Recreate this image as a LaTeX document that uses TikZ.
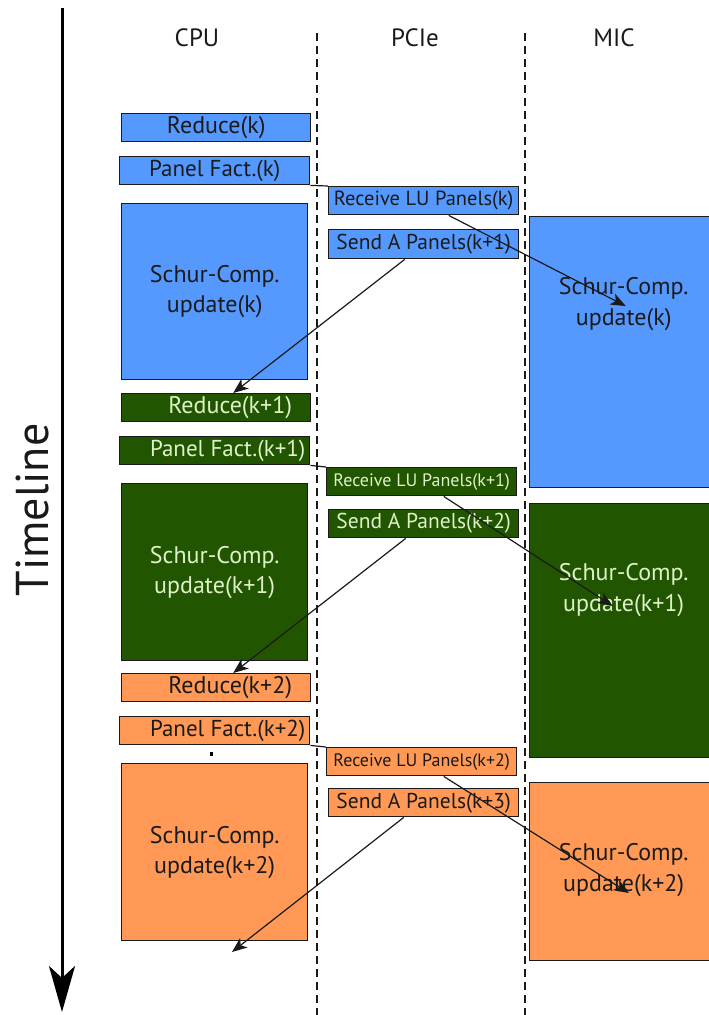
\documentclass[tikz,border=0pt]{standalone}
\usepackage{fontspec}
\setmainfont{PT Sans}
\usetikzlibrary{arrows.meta,positioning,calc}
\definecolor{stagea}{HTML}{5599FF}
\definecolor{stageb}{HTML}{225500}
\definecolor{stagec}{HTML}{FF9955}
\definecolor{ink}{HTML}{1A1A1A}
\definecolor{pale}{HTML}{DDF2C8}
\tikzset{
  >={Stealth[length=15pt,width=12pt,inset=4pt]},
  every node/.style={text=ink},
  box/.style={draw=ink,line width=1.4pt,anchor=north west,inner sep=0pt,align=center,font=\fontsize{24}{30}\selectfont},
  bluebox/.style={box,fill=stagea},
  greenbox/.style={box,fill=stageb,text=pale},
  orangebox/.style={box,fill=stagec},
  pftext/.style={font=\fontsize{23}{27}\selectfont},
  rcvtext/.style={font=\fontsize{20.5}{24}\selectfont},
  sndtext/.style={font=\fontsize{21.5}{25}\selectfont},
  smalltext/.style={font=\fontsize{18}{22}\selectfont},
  mictext/.style={align=center,inner sep=0pt,font=\fontsize{24}{31}\selectfont},
  lane/.style={draw=ink,line width=1.3pt,dash pattern=on 8pt off 5pt},
  head/.style={font=\fontsize{25}{30}\selectfont},
  msg/.style={->,line width=1.2pt,draw=ink},
  hand/.style={line width=1.2pt,draw=ink},
}

\begin{document}
\begin{tikzpicture}[x=1pt,y=-1pt]
\useasboundingbox (0,0) rectangle (709,1015);
\clip (0,0) rectangle (709,1015);

% timeline
\coordinate (tltop) at (62,8);
\coordinate (tlbot) at (62,1012);
\draw[line width=3pt,draw=black,-{Stealth[length=46pt,width=26pt,inset=12pt]}] (tltop) -- (tlbot);
\node[rotate=90,font=\fontsize{46}{50}\selectfont] (tlname) at (32,510) {Timeline};

% lanes
\draw[lane] (317,33) -- (317,1015);
\draw[lane] (525,33) -- (525,1015);
\node[head] (cpu) at (197,38) {CPU};
\node[head] (pcie) at (415,38) {PCIe};
\node[head] (mic) at (614,38) {MIC};

% step k
\node[bluebox,minimum width=189pt,minimum height=28pt] (reda) at (121,113) {Reduce(k)};
\node[bluebox,pftext,minimum width=190pt,minimum height=28pt] (pfa) at (119,156) {Panel Fact.(k)};
\node[bluebox,minimum width=186pt,minimum height=176pt] (sca) at (121,203) {Schur-Comp.\\update(k)};
\node[bluebox,rcvtext,minimum width=190pt,minimum height=28pt] (rcva) at (328,186) {Receive LU Panels(k)};
\node[bluebox,sndtext,minimum width=190pt,minimum height=29pt] (snda) at (328,229) {Send A Panels(k+1)};
\node[bluebox,minimum width=188pt,minimum height=271pt] (mica) at (529,216) {};
\node[mictext] (micat) at ([yshift=-88pt]mica.north) {Schur-Comp.\\update(k)};

% step k+1
\node[greenbox,minimum width=189pt,minimum height=28pt] (redb) at (121,393) {\hspace*{28pt}Reduce(k+1)};
\node[greenbox,pftext,minimum width=190pt,minimum height=28pt] (pfb) at (119,436) {\hspace*{26pt}Panel Fact.(k+1)};
\node[greenbox,minimum width=186pt,minimum height=177pt] (scb) at (121,483) {Schur-Comp.\\update(k+1)};
\node[greenbox,smalltext,minimum width=190pt,minimum height=28pt] (rcvb) at (326,467) {Receive LU Panels(k+1)};
\node[greenbox,sndtext,minimum width=190pt,minimum height=28pt] (sndb) at (328,509) {Send A Panels(k+2)};
\node[greenbox,minimum width=188pt,minimum height=254pt] (micb) at (529,503) {};
\node[mictext,text=pale] (micbt) at ([yshift=-87pt]micb.north) {Schur-Comp.\\update(k+1)};

% step k+2
\node[orangebox,minimum width=189pt,minimum height=28pt] (redc) at (121,673) {\hspace*{28pt}Reduce(k+2)};
\node[orangebox,pftext,minimum width=190pt,minimum height=28pt] (pfc) at (119,716) {\hspace*{26pt}Panel Fact.(k+2)};
\node[orangebox,minimum width=186pt,minimum height=177pt] (scc) at (121,763) {Schur-Comp.\\update(k+2)};
\node[orangebox,smalltext,minimum width=190pt,minimum height=28pt] (rcvc) at (326,747) {Receive LU Panels(k+2)};
\node[orangebox,sndtext,minimum width=190pt,minimum height=28pt] (sndc) at (328,788) {Send A Panels(k+3)};
\node[orangebox,minimum width=188pt,minimum height=178pt] (micc) at (529,782) {};
\node[mictext] (micct) at ([yshift=-88pt]micc.north) {Schur-Comp.\\update(k+2)};
\node[fill=black,inner sep=0pt,minimum width=3pt,minimum height=4pt] (dot) at (211,754) {};
\coordinate (endc) at (232,952);

% transfers
\draw[hand] (pfa.south east) -- (rcva.north west);
\draw[hand] (pfb.south east) -- (rcvb.north west);
\draw[hand] (pfc.south east) -- (rcvc.north west);
\draw[msg] ([xshift=25pt]rcva.south) -- ([xshift=2pt,yshift=-2pt]micat.center);
\draw[msg] ([xshift=22pt]rcvb.south) -- ([xshift=-11pt,yshift=-16pt]micbt.center);
\draw[msg] ([xshift=22pt]rcvc.south) -- ([xshift=5pt,yshift=-23pt]micct.center);
\draw[msg] ([xshift=-19pt]snda.south) -- ([xshift=17pt]redb.north);
\draw[msg] ([xshift=-18pt]sndb.south) -- ([xshift=17pt]redc.north);
\draw[msg] ([xshift=-20pt]sndc.south) -- (endc);

\end{tikzpicture}
\end{document}
